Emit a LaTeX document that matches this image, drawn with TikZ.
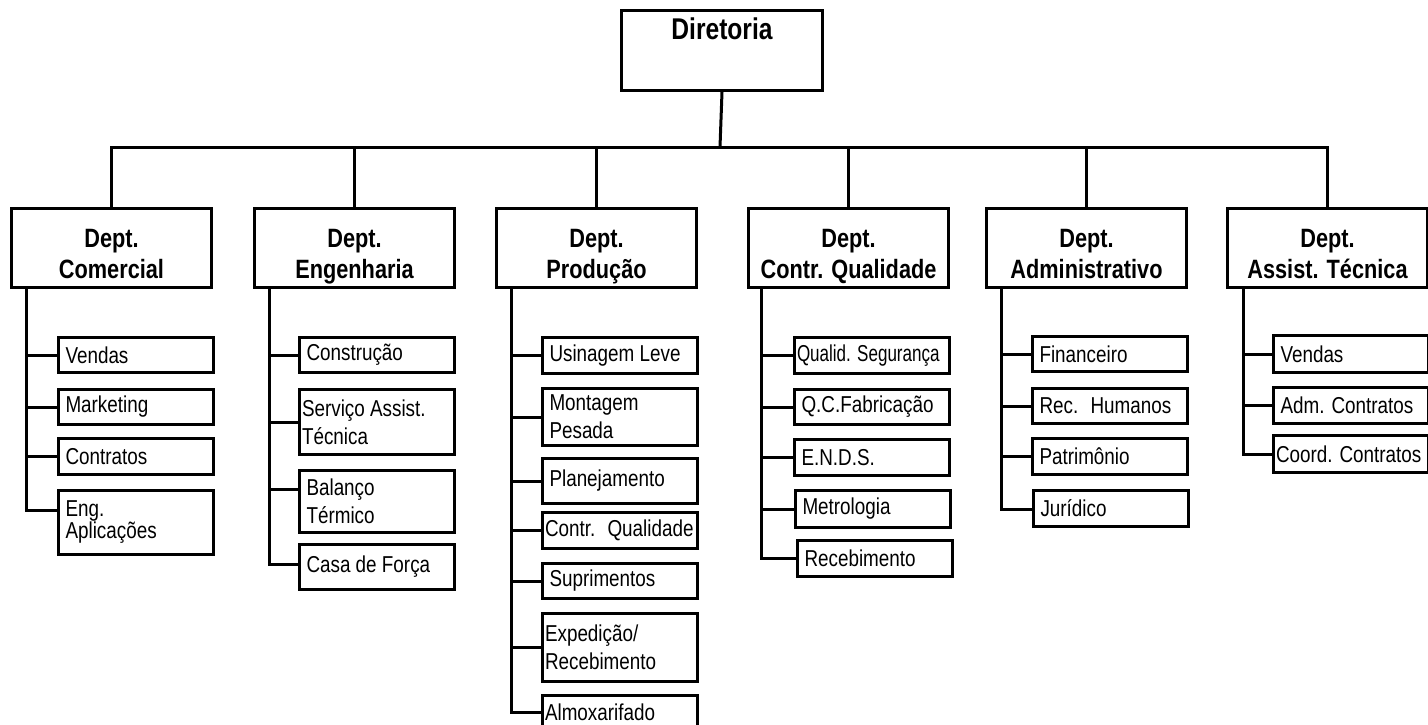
\documentclass[tikz,border=0pt]{standalone}
\usepackage{fontspec}
\setmainfont{Liberation Sans}[FakeStretch=0.82]
\newfontfamily\tightfont{Liberation Sans}[FakeStretch=0.74]
\tikzset{
  wire/.style={line width=3pt},
  boss/.style={draw, line width=3pt, anchor=north west, minimum width=201pt, inner sep=5pt,
    text height=24pt, text depth=46pt, font=\fontsize{30}{34}\selectfont\bfseries},
  dept/.style={draw, line width=3pt, anchor=north west, minimum width=200pt, minimum height=79pt,
    text height=61pt, text depth=0pt, align=flush center, font=\fontsize{26.5}{31}\selectfont\bfseries},
  unit/.style={draw, line width=3pt, anchor=north west, text width=141pt, inner xsep=7pt,
    inner ysep=0pt, align=flush left, font=\fontsize{23}{28}\selectfont},
  wideunit/.style={unit, text width=150pt, inner xsep=2.5pt}
}
\begin{document}
\begin{tikzpicture}[x=1pt,y=-1pt]
\useasboundingbox (0,0) rectangle (1428,725);
\node[boss] (dir) at (620,9) {Diretoria};
\node[dept] (com) at (10,207) {Dept.\\Comercial};
\node[dept] (eng) at (253,207) {Dept.\\Engenharia};
\node[dept] (pro) at (495,207) {Dept.\\Produção};
\node[dept] (cq) at (747,207) {Dept.\\Contr. Qualidade};
\node[dept] (adm) at (985,207) {Dept.\\Administrativo};
\node[dept] (ast) at (1226,207) {Dept.\\Assist. Técnica};
\coordinate (bus) at (720,147);
\draw[wire] (dir.south) -- (bus);
\draw[wire] (com.north) |- (bus) -| (ast.north);
\draw[wire] (eng.north) -- (eng.north |- bus);
\draw[wire] (pro.north) -- (pro.north |- bus);
\draw[wire] (cq.north) -- (cq.north |- bus);
\draw[wire] (adm.north) -- (adm.north |- bus);
\node[unit, minimum height=35pt] (com1) at (57,336) {Vendas};
\node[unit, minimum height=35pt] (com2) at (57,388) {Marketing};
\node[unit, minimum height=36pt] (com3) at (57,437) {Contratos};
\node[unit, minimum height=64pt] (com4) at (57,489) {Eng.\\[-6pt]Aplicações};
\coordinate (comsp) at ([xshift=16pt]com.south west);
\draw[wire] (comsp) |- ([yshift=12pt]com4.west) (comsp) |- (com3.west) (comsp) |- (com2.west) (comsp) |- (com1.west);
\node[unit, minimum height=35pt] (eng1) at (298,336) {Construção};
\node[wideunit, minimum height=65pt] (eng2) at (298,388) {Serviço Assist.\\Técnica};
\node[unit, minimum height=62pt] (eng3) at (298,469) {Balanço\\Térmico};
\node[unit, minimum height=45pt] (eng4) at (298,543) {Casa de Força};
\coordinate (engsp) at ([xshift=16pt]eng.south west);
\draw[wire] (engsp) |- ([yshift=3pt]eng4.west) (engsp) |- ([yshift=12pt]eng3.west) (engsp) |- (eng2.west) (engsp) |- (eng1.west);
\node[unit, minimum height=36pt] (pro1) at (541,336) {Usinagem Leve};
\node[unit, minimum height=57pt] (pro2) at (541,387) {Montagem\\Pesada};
\node[unit, minimum height=45pt] (pro3) at (541,457) {Planejamento};
\node[wideunit, minimum height=36pt] (pro4) at (541,511) {Contr.~ Qualidade};
\node[unit, minimum height=35pt] (pro5) at (541,562) {Suprimentos};
\node[wideunit, minimum height=68pt] (pro6) at (541,612) {Expedição/\\Recebimento};
\node[wideunit, minimum height=34pt] (pro7) at (541,694) {Almoxarifado};
\coordinate (prosp) at ([xshift=16pt]pro.south west);
\draw[wire] (prosp) |- (pro7.west) (prosp) |- (pro6.west) (prosp) |- (pro5.west) (prosp) |- (pro4.west) (prosp) |- (pro3.west) (prosp) |- (pro2.west) (prosp) |- (pro1.west);
\node[wideunit, minimum height=36pt] (cq1) at (793,336) {\tightfont Qualid. Segurança};
\node[unit, minimum height=35pt] (cq2) at (793,388) {Q.C.Fabricação};
\node[unit, minimum height=36pt] (cq3) at (793,438) {E.N.D.S.};
\node[unit, minimum height=37pt] (cq4) at (794,489) {Metrologia};
\node[unit, minimum height=36pt] (cq5) at (796,539) {Recebimento};
\coordinate (cqsp) at ([xshift=14pt]cq.south west);
\draw[wire] (cqsp) |- (cq5.west) (cqsp) |- (cq4.west) (cqsp) |- (cq3.west) (cqsp) |- (cq2.west) (cqsp) |- (cq1.west);
\node[unit, minimum height=35pt] (adm1) at (1031,335) {Financeiro};
\node[unit, minimum height=35pt] (adm2) at (1031,387) {Rec.~ Humanos};
\node[unit, minimum height=36pt] (adm3) at (1031,437) {Patrimônio};
\node[unit, minimum height=36pt] (adm4) at (1032,489) {Jurídico};
\coordinate (admsp) at ([xshift=16pt]adm.south west);
\draw[wire] (admsp) |- ([yshift=-1pt]adm4.west) (admsp) |- (adm3.west) (admsp) |- (adm2.west) (admsp) |- (adm1.west);
\node[unit, minimum height=37pt] (ast1) at (1272,334) {Vendas};
\node[unit, minimum height=36pt] (ast2) at (1272,386) {Adm. Contratos};
\node[wideunit, minimum height=37pt] (ast3) at (1272,434) {Coord. Contratos};
\coordinate (astsp) at ([xshift=17pt]ast.south west);
\draw[wire] (astsp) |- (ast3.west) (astsp) |- (ast2.west) (astsp) |- (ast1.west);
\end{tikzpicture}
\end{document}
